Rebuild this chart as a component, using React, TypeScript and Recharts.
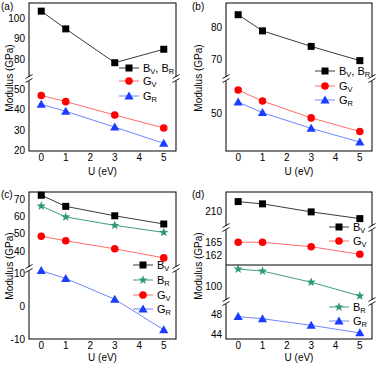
import { Line, LineChart, XAxis, YAxis } from "recharts";
import type { ReactNode } from "react";

const U = [0, 1, 3, 5];
const U_TICKS = [0, 1, 2, 3, 4, 5];
const U_MINOR = [0.5, 1.5, 2.5, 3.5, 4.5];
const X_DOMAIN: [number, number] = [-0.5, 5.5];

// (a)
const A_B = [103.5, 94.8, 78.2, 84.8];
const A_GV = [46.9, 43.9, 37.4, 31.1];
const A_GR = [42.6, 39.2, 31.5, 23.6];
// (b)
const B_B = [84.0, 78.9, 74.0, 69.5];
const B_GV = [54.4, 52.3, 49.1, 46.5];
const B_GR = [52.1, 50.1, 47.1, 44.5];
// (c)
const C_BV = [72.6, 66.1, 60.6, 55.8];
const C_BR = [66.3, 59.9, 55.0, 50.9];
const C_GV = [48.6, 46.0, 41.3, 36.0];
const C_GR = [10.8, 8.4, 2.1, -7.2];
// (d)
const D_BV = [212.1, 211.6, 209.8, 208.3];
const D_GV = [165.0, 165.0, 164.0, 162.3];
const D_BR = [103.4, 103.0, 100.8, 98.1];
const D_GR = [47.5, 47.1, 45.8, 44.3];

// y ticks for each axis segment
const A_HI_TICKS = [80, 90, 100];
const A_HI_MINOR = [75, 85, 95, 105];
const A_LO_TICKS = [20, 30, 40, 50];
const A_LO_MINOR = [25, 35, 45];
const B_HI_TICKS = [70, 80];
const B_HI_MINOR = [65, 75, 85];
const B_LO_TICKS = [50];
const B_LO_MINOR = [45, 55];
const C_HI_TICKS = [40, 50, 60, 70];
const C_HI_MINOR = [35, 45, 55, 65];
const C_LO_TICKS = [-10, 0, 10];
const C_LO_MINOR = [-5, 5];
const D1_TICKS = [210];
const D1_MINOR = [207.5, 212.5];
const D2_TICKS = [162, 165];
const D2_MINOR = [160.5, 163.5, 166.5];
const D3_TICKS = [100];
const D3_MINOR = [98, 102];
const D4_TICKS = [44, 48];
const D4_MINOR = [46];

type Kind = "B" | "BR" | "GV" | "GR";
type Series = { vals: number[]; kind: Kind };
type Seg = { top: number; h: number; domain: [number, number]; ticks: number[]; minor: number[]; series: Series[] };
type Panel = { left: number; width: number; segs: Seg[] };

const LOOK: Record<Kind, { line: string; fill: string }> = {
  B: { line: "#3a3a3a", fill: "#000000" },
  BR: { line: "#3f9e7a", fill: "#2f9a70" },
  GV: { line: "#ff6b6b", fill: "#ff0000" },
  GR: { line: "#6f86ff", fill: "#1c3cff" },
};

const rows = (vals: number[]) => U.map((u, i) => ({ u, v: vals[i] }));

function Marker({ kind, cx, cy }: { kind: Kind; cx: number; cy: number }) {
  const fill = LOOK[kind].fill;
  if (kind === "B") return <rect x={cx - 3.5} y={cy - 3.5} width={7} height={7} fill={fill} />;
  if (kind === "GV") return <circle cx={cx} cy={cy} r={3.8} fill={fill} />;
  if (kind === "GR")
    return <polygon points={`${cx},${cy - 4.6} ${cx - 4.6},${cy + 3.4} ${cx + 4.6},${cy + 3.4}`} fill={fill} />;
  const pts: string[] = [];
  for (let i = 0; i < 10; i++) {
    const r = i % 2 ? 2 : 4.8;
    const a = -Math.PI / 2 + (i * Math.PI) / 5;
    pts.push(`${cx + r * Math.cos(a)},${cy + r * Math.sin(a)}`);
  }
  return <polygon points={pts.join(" ")} fill={fill} />;
}

const LW = 34;
const THIN = 0.01; // tick-only axes: must be > 0 or recharts skips them
const TICK_TEXT = { fill: "#000", fontSize: 10 };
const TICK_LINE = { stroke: "#000", strokeWidth: 1 };

function SegmentChart({ left, width, seg, first, last }: { left: number; width: number; seg: Seg; first: boolean; last: boolean }) {
  const xh = last ? 18 : 0;
  return (
    <div style={{ position: "absolute", left: left - LW, top: seg.top }}>
      <LineChart width={LW + width} height={seg.h + xh} margin={{ top: 0, right: 0, bottom: 0, left: 0 }}>
        <XAxis xAxisId="u" type="number" dataKey="u" domain={X_DOMAIN} ticks={U_TICKS} interval={0} hide={!last}
          height={xh} axisLine={false} tickLine={false} tickSize={0} tickMargin={3} tick={TICK_TEXT} />
        {first && (
          <XAxis xAxisId="tM" orientation="top" mirror type="number" domain={X_DOMAIN} ticks={U_TICKS} interval={0}
            height={THIN} axisLine={false} tick={false} tickSize={4} tickLine={TICK_LINE} />
        )}
        {first && (
          <XAxis xAxisId="tm" orientation="top" mirror type="number" domain={X_DOMAIN} ticks={U_MINOR} interval={0}
            height={THIN} axisLine={false} tick={false} tickSize={2} tickLine={TICK_LINE} />
        )}
        {last && (
          <XAxis xAxisId="bM" orientation="bottom" mirror type="number" domain={X_DOMAIN} ticks={U_TICKS} interval={0}
            height={THIN} axisLine={false} tick={false} tickSize={4} tickLine={TICK_LINE} />
        )}
        {last && (
          <XAxis xAxisId="bm" orientation="bottom" mirror type="number" domain={X_DOMAIN} ticks={U_MINOR} interval={0}
            height={THIN} axisLine={false} tick={false} tickSize={2} tickLine={TICK_LINE} />
        )}
        <YAxis yAxisId="v" type="number" domain={seg.domain} ticks={seg.ticks} interval={0} width={LW}
          axisLine={false} tickLine={false} tickSize={0} tickMargin={4} tick={TICK_TEXT} />
        <YAxis yAxisId="lM" mirror type="number" domain={seg.domain} ticks={seg.ticks} interval={0} width={THIN}
          axisLine={false} tick={false} tickSize={4} tickLine={TICK_LINE} />
        <YAxis yAxisId="lm" mirror type="number" domain={seg.domain} ticks={seg.minor} interval={0} width={THIN}
          axisLine={false} tick={false} tickSize={2} tickLine={TICK_LINE} />
        <YAxis yAxisId="rM" orientation="right" mirror type="number" domain={seg.domain} ticks={seg.ticks} interval={0} width={THIN}
          axisLine={false} tick={false} tickSize={4} tickLine={TICK_LINE} />
        <YAxis yAxisId="rm" orientation="right" mirror type="number" domain={seg.domain} ticks={seg.minor} interval={0} width={THIN}
          axisLine={false} tick={false} tickSize={2} tickLine={TICK_LINE} />
        {seg.series.map((s, i) => (
          <Line key={i} xAxisId="u" yAxisId="v" data={rows(s.vals)} dataKey="v" stroke={LOOK[s.kind].line}
            strokeWidth={1} isAnimationActive={false} activeDot={false}
            dot={(p: any) => <Marker key={p.index} kind={s.kind} cx={p.cx} cy={p.cy} />} />
        ))}
      </LineChart>
    </div>
  );
}

const PANEL_A: Panel = {
  left: 29, width: 147,
  segs: [
    { top: 3, h: 76, domain: [70.2, 107.5], ticks: A_HI_TICKS, minor: A_HI_MINOR, series: [{ vals: A_B, kind: "B" }] },
    { top: 79, h: 72, domain: [19.9, 54.9], ticks: A_LO_TICKS, minor: A_LO_MINOR, series: [{ vals: A_GV, kind: "GV" }, { vals: A_GR, kind: "GR" }] },
  ],
};
const PANEL_B: Panel = {
  left: 226, width: 146,
  segs: [
    { top: 3, h: 76, domain: [63.7, 87.7], ticks: B_HI_TICKS, minor: B_HI_MINOR, series: [{ vals: B_B, kind: "B" }] },
    { top: 79, h: 72, domain: [42.8, 56.5], ticks: B_LO_TICKS, minor: B_LO_MINOR, series: [{ vals: B_GV, kind: "GV" }, { vals: B_GR, kind: "GR" }] },
  ],
};
const PANEL_C: Panel = {
  left: 29, width: 147,
  segs: [
    { top: 192, h: 77, domain: [29.5, 74.5], ticks: C_HI_TICKS, minor: C_HI_MINOR,
      series: [{ vals: C_BV, kind: "B" }, { vals: C_BR, kind: "BR" }, { vals: C_GV, kind: "GV" }] },
    { top: 269, h: 70, domain: [-10, 11.3], ticks: C_LO_TICKS, minor: C_LO_MINOR, series: [{ vals: C_GR, kind: "GR" }] },
  ],
};
const PANEL_D: Panel = {
  left: 226, width: 146,
  segs: [
    { top: 192, h: 36, domain: [206.2, 214.25], ticks: D1_TICKS, minor: D1_MINOR, series: [{ vals: D_BV, kind: "B" }] },
    { top: 228, h: 37, domain: [159.9, 168.2], ticks: D2_TICKS, minor: D2_MINOR, series: [{ vals: D_GV, kind: "GV" }] },
    { top: 265, h: 37, domain: [96.9, 104.2], ticks: D3_TICKS, minor: D3_MINOR, series: [{ vals: D_BR, kind: "BR" }] },
    { top: 302, h: 37, domain: [43.1, 50.4], ticks: D4_TICKS, minor: D4_MINOR, series: [{ vals: D_GR, kind: "GR" }] },
  ],
};
const PANELS = [PANEL_A, PANEL_B, PANEL_C, PANEL_D];

const BVBR = <>B<sub>V</sub>, B<sub>R</sub></>;
const BV = <>B<sub>V</sub></>;
const BR = <>B<sub>R</sub></>;
const GV = <>G<sub>V</sub></>;
const GR = <>G<sub>R</sub></>;

type LegendItem = { x: number; y: number; kind: Kind; label: ReactNode };
const LEGEND: LegendItem[] = [
  { x: 119, y: 67.5, kind: "B", label: BVBR },
  { x: 119, y: 81, kind: "GV", label: GV },
  { x: 119, y: 96, kind: "GR", label: GR },
  { x: 315, y: 71, kind: "B", label: BVBR },
  { x: 315, y: 86, kind: "GV", label: GV },
  { x: 315, y: 100, kind: "GR", label: GR },
  { x: 133, y: 265, kind: "B", label: BV },
  { x: 133, y: 279.8, kind: "BR", label: BR },
  { x: 133, y: 294.6, kind: "GV", label: GV },
  { x: 133, y: 309.4, kind: "GR", label: GR },
  { x: 329, y: 227.3, kind: "B", label: BV },
  { x: 329, y: 241.3, kind: "GV", label: GV },
  { x: 329, y: 306.7, kind: "BR", label: BR },
  { x: 329, y: 320.7, kind: "GR", label: GR },
];

function LegendRow({ item }: { item: LegendItem }) {
  return (
    <div style={{ position: "absolute", left: item.x, top: item.y - 7, height: 14, display: "flex", alignItems: "center", whiteSpace: "nowrap" }}>
      <svg width={20} height={14} style={{ overflow: "visible" }}>
        <line x1={0} y1={7} x2={20} y2={7} stroke={LOOK[item.kind].line} strokeWidth={1} />
        <Marker kind={item.kind} cx={10} cy={7} />
      </svg>
      <span style={{ marginLeft: 4, fontSize: 11, lineHeight: "14px" }}>{item.label}</span>
    </div>
  );
}

function Break({ x, y }: { x: number; y: number }) {
  return (
    <g>
      <rect x={x - 3} y={y - 2} width={6} height={4} fill="#fff" />
      <line x1={x - 3.5} y1={y - 0.5} x2={x + 3.5} y2={y - 4.5} stroke="#000" strokeWidth={0.9} />
      <line x1={x - 3.5} y1={y + 3.5} x2={x + 3.5} y2={y - 0.5} stroke="#000" strokeWidth={0.9} />
    </g>
  );
}

const TITLES = [
  { label: "(a)", x: 1, y: 6.5 },
  { label: "(b)", x: 192, y: 6.5 },
  { label: "(c)", x: 1, y: 195 },
  { label: "(d)", x: 192, y: 195 },
];

export default function App() {
  return (
    <div style={{ position: "relative", width: 378, height: 368, background: "#fff", fontFamily: '"Liberation Sans", Arial, sans-serif', color: "#000" }}>
      <style>{"body{margin:0}.recharts-surface{overflow:visible}sub{font-size:7.5px;vertical-align:-2px;line-height:0}"}</style>
      {PANELS.map((p, pi) =>
        p.segs.map((s, si) => (
          <SegmentChart key={`${pi}-${si}`} left={p.left} width={p.width} seg={s} first={si === 0} last={si === p.segs.length - 1} />
        ))
      )}
      <svg width={378} height={368} style={{ position: "absolute", left: 0, top: 0, pointerEvents: "none" }}>
        {PANELS.map((p, i) => {
          const top = p.segs[0].top;
          const last = p.segs[p.segs.length - 1];
          return (
            <rect key={i} x={p.left} y={top} width={p.width} height={last.top + last.h - top} fill="none" stroke="#000" strokeWidth={1} />
          );
        })}
        <line x1={226} y1={265} x2={372} y2={265} stroke="#000" strokeWidth={1} />
        <Break x={29} y={79} />
        <Break x={176} y={79} />
        <Break x={226} y={79} />
        <Break x={372} y={79} />
        <Break x={29} y={269} />
        <Break x={176} y={269} />
        <Break x={226} y={228} />
        <Break x={372} y={228} />
        <Break x={226} y={302} />
        <Break x={372} y={302} />
      </svg>
      {LEGEND.map((it, i) => <LegendRow key={i} item={it} />)}
      {TITLES.map((t) => (
        <div key={t.label} style={{ position: "absolute", left: t.x, top: t.y - 6, fontSize: 10, lineHeight: "12px" }}>{t.label}</div>
      ))}
      {[{ x: 102.5, y: 171.5 }, { x: 299, y: 171.5 }, { x: 102.5, y: 357.5 }, { x: 299, y: 357.5 }].map((c, i) => (
        <div key={i} style={{ position: "absolute", left: c.x - 30, top: c.y - 5, width: 60, textAlign: "center", fontSize: 10, lineHeight: "10px" }}>U (eV)</div>
      ))}
      {[{ x: 10, y: 78 }, { x: 199, y: 78 }, { x: 10, y: 266 }, { x: 199, y: 266 }].map((c, i) => (
        <div key={i} style={{ position: "absolute", left: c.x - 40, top: c.y - 6, width: 80, textAlign: "center", fontSize: 10, lineHeight: "12px", transform: "rotate(-90deg)" }}>Modulus (GPa)</div>
      ))}
    </div>
  );
}
